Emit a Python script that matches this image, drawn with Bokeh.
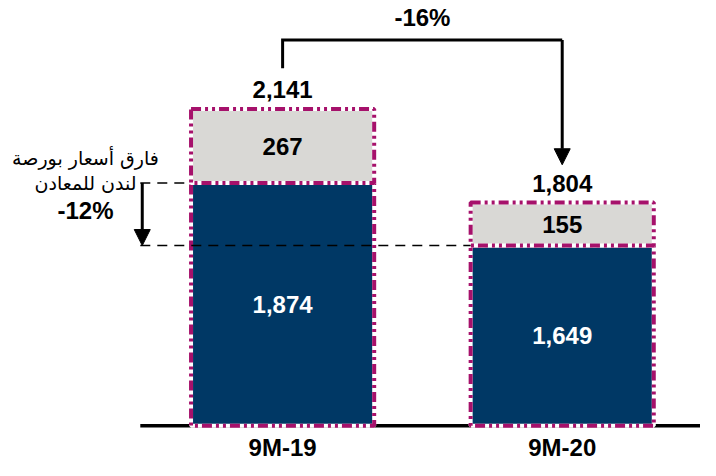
from bokeh.plotting import figure
from bokeh.models import Range1d, ColumnDataSource, Arrow, NormalHead
from bokeh.core.properties import value
from bokeh.embed import file_html
from bokeh.resources import INLINE

# ---- data ----
periods = ["9M-19", "9M-20"]
base_values = [1874, 1649]      # blue segment
lme_gap = [267, 155]            # grey segment (LME price gap)
totals = [2141, 1804]
change_total = "-16%"
change_lme = "-12%"
note_lines = ["فارق أسعار بورصة", "لندن للمعادن"]
axis_start = 1000               # truncated value axis start

# ---- styles ----
BLUE = "#003865"
GREY = "#D9D8D5"
MAGENTA = "#A6116B"
FONT = "Liberation Sans"
AR_FONT = "DejaVu Sans"

xs = list(range(len(periods)))
bar_w = 0.655

src = ColumnDataSource(dict(
    x=xs,
    bottom=[axis_start] * len(xs),
    base=base_values,
    total=totals,
    mid_gap=[b + g / 2 for b, g in zip(base_values, lme_gap)],
    mid_base=[(axis_start + b) / 2 for b in base_values],
    total_lbl=[f"{v:,}" for v in totals],
    gap_lbl=[f"{v:,}" for v in lme_gap],
    base_lbl=[f"{v:,}" for v in base_values],
    period=periods,
))

p = figure(width=700, height=460,
           x_range=Range1d(-1.009, 1.4946), y_range=Range1d(874.6, 2531.7),
           output_backend="svg", toolbar_location=None, min_border=0)
p.axis.visible = False
p.grid.visible = False
p.outline_line_color = None

# baseline
p.segment(x0=[xs[0] - 0.509], y0=[axis_start], x1=[1.4946], y1=[axis_start],
          line_color="black", line_width=3.5)

# bars
for top, bottom, col in (("base", "bottom", BLUE), ("total", "base", GREY)):
    p.vbar(x="x", width=bar_w, bottom=bottom, top=top, source=src,
           fill_color=col, line_color="white", line_width=4)
    p.vbar(x="x", width=bar_w, bottom=bottom, top=top, source=src,
           fill_alpha=0, line_color=MAGENTA, line_width=4,
           line_dash="10 4 3 4 3 4")

bold = dict(text_font=value(FONT), text_font_style="bold",
            text_align="center", text_baseline="middle")

p.text(x="x", y="total", text="total_lbl", source=src, y_offset=-19,
       text_font_size="24px", text_color="black", **bold)
p.text(x="x", y="mid_gap", text="gap_lbl", source=src,
       text_font_size="24px", text_color="black", **bold)
p.text(x="x", y="mid_base", text="base_lbl", source=src,
       text_font_size="24px", text_color="white", **bold)
p.text(x="x", y="bottom", text="period", source=src, y_offset=22,
       text_font_size="24px", text_color="black", **bold)

# -16% bracket
bracket_top = max(totals) + 248
p.line(x=[xs[0], xs[0], xs[1]], y=[totals[0] + 147, bracket_top, bracket_top],
       line_color="black", line_width=3, line_join="miter")
p.add_layout(Arrow(end=NormalHead(size=16, fill_color="black", line_color="black", line_width=1),
                   x_start=xs[1], y_start=bracket_top, x_end=xs[1], y_end=totals[1] + 136,
                   line_color="black", line_width=3))
p.text(x=[(xs[0] + xs[1]) / 2], y=[bracket_top], text=[change_total], y_offset=-23,
       text_font_size="24px", text_color="black", **bold)

# -12% LME annotation
ax = xs[0] - 0.502
p.segment(x0=[xs[0] - 0.509, xs[0] - 0.509], y0=[base_values[0], base_values[1]],
          x1=[xs[0] - bar_w / 2, xs[1] - bar_w / 2], y1=[base_values[0], base_values[1]],
          line_color="black", line_width=1.5, line_dash="10 7")
p.add_layout(Arrow(end=NormalHead(size=16, fill_color="black", line_color="black", line_width=1),
                   x_start=ax, y_start=base_values[0], x_end=ax, y_end=base_values[1],
                   line_color="black", line_width=3))
tx = xs[0] - 0.705
p.text(x=[tx, tx], y=[base_values[0]] * 2, text=note_lines, y_offset=[-25, 0],
       text_font=value(AR_FONT), text_font_size="19px", text_color="black",
       text_align="center", text_baseline="middle")
p.text(x=[tx], y=[base_values[0]], text=[change_lme], y_offset=27,
       text_font_size="24px", text_color="black", **bold)

open("out.html", "w").write(file_html(p, INLINE))
